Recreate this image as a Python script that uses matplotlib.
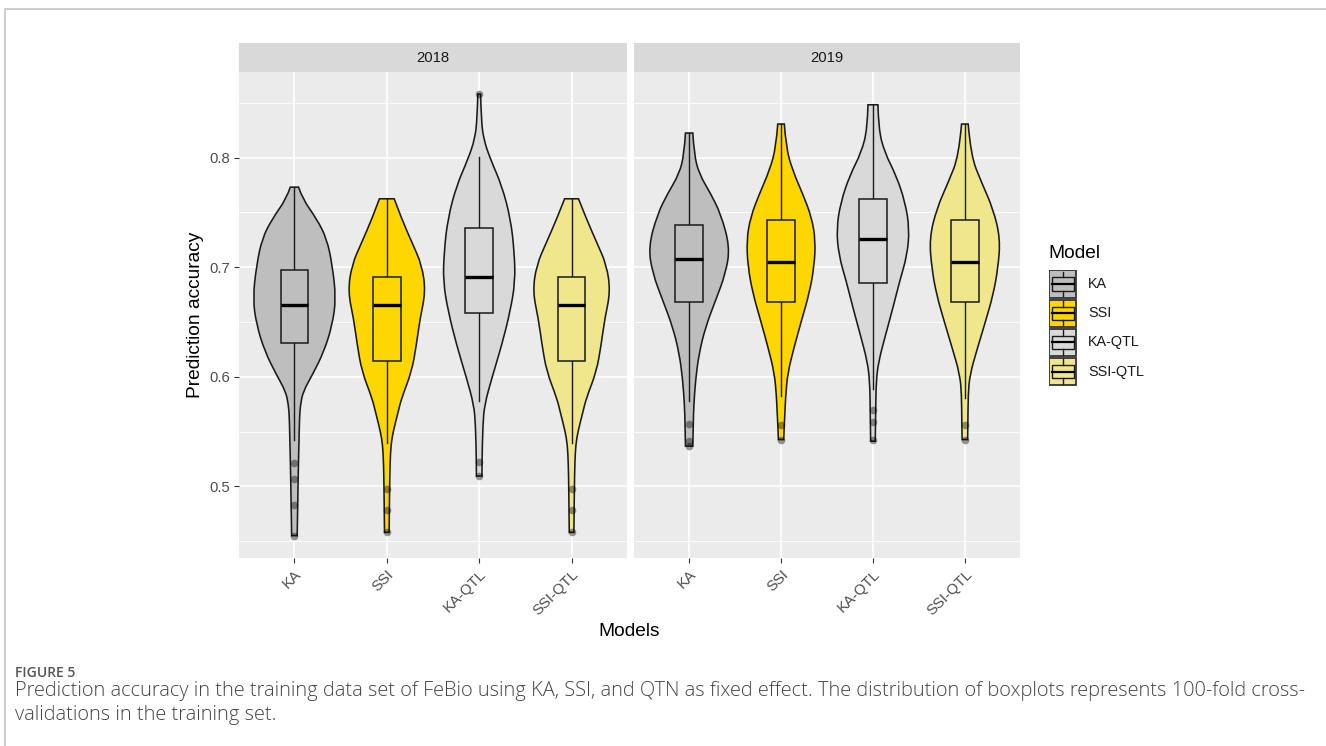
import matplotlib
matplotlib.use("Agg")
import matplotlib.pyplot as plt
from matplotlib.path import Path
from matplotlib.patches import PathPatch, Rectangle
from matplotlib.lines import Line2D

plt.rcParams['font.family'] = ['Liberation Sans', 'DejaVu Sans']

# ---------------- data ----------------
models = ["KA", "SSI", "KA-QTL", "SSI-QTL"]
years = ["2018", "2019"]
fill_colors = ["#BEBEBE", "#FFD700", "#D9D9D9", "#F0E68C"]

# box statistics, in model order
q1_2018 = [0.6306, 0.6145, 0.6585, 0.6145]
med_2018 = [0.6655, 0.6655, 0.6906, 0.6655]
q3_2018 = [0.6973, 0.6906, 0.7358, 0.6906]
wlo_2018 = [0.5427, 0.5397, 0.5776, 0.5397]
whi_2018 = [0.7730, 0.7624, 0.8003, 0.7624]
out_2018 = [[0.521, 0.5064, 0.4827, 0.4548],
            [0.4973, 0.4782, 0.4579],
            [0.8579, 0.5221, 0.5094],
            [0.4973, 0.4782, 0.4579]]

q1_2019 = [0.6679, 0.6685, 0.6857, 0.6685]
med_2019 = [0.7070, 0.7049, 0.7255, 0.7049]
q3_2019 = [0.7388, 0.7433, 0.7618, 0.7427]
wlo_2019 = [0.5776, 0.5821, 0.5891, 0.5806]
whi_2019 = [0.8224, 0.8306, 0.8482, 0.8306]
out_2019 = [[0.557, 0.541, 0.537],
            [0.5564, 0.5427],
            [0.570, 0.5585, 0.5421],
            [0.5564, 0.5427]]

# violin outlines: accuracy levels (bottom -> top) and half-widths (x units)
ka18_y = [0.455, 0.48, 0.52, 0.5427, 0.5624, 0.5745, 0.5867, 0.6018, 0.623, 0.6473,
          0.6715, 0.7018, 0.7261, 0.7442, 0.7624, 0.773]
ka18_w = [0.03, 0.035, 0.043, 0.05, 0.055, 0.065, 0.095, 0.195, 0.32, 0.41,
          0.45, 0.41, 0.35, 0.24, 0.087, 0.045]
ssi18_y = [0.458, 0.4973, 0.52, 0.538, 0.5503, 0.567, 0.5806, 0.6048, 0.6291, 0.6533,
           0.6776, 0.7018, 0.723, 0.7442, 0.7624]
ssi18_w = [0.025, 0.03, 0.035, 0.045, 0.07, 0.12, 0.16, 0.27, 0.32, 0.36,
           0.42, 0.38, 0.27, 0.16, 0.08]
kaq18_y = [0.5094, 0.5221, 0.5564, 0.5745, 0.5988, 0.6291, 0.6594, 0.6867, 0.7139,
           0.7442, 0.7745, 0.7988, 0.817, 0.8352, 0.8579]
kaq18_w = [0.03, 0.03, 0.04, 0.058, 0.137, 0.245, 0.335, 0.39, 0.38,
           0.34, 0.245, 0.12, 0.047, 0.022, 0.015]
ssiq18_y = [0.458, 0.4973, 0.52, 0.538, 0.5503, 0.567, 0.5806, 0.6048, 0.6291, 0.6533,
            0.6776, 0.7018, 0.723, 0.7442, 0.7624]
ssiq18_w = [0.025, 0.03, 0.035, 0.045, 0.07, 0.12, 0.16, 0.27, 0.32, 0.36,
            0.42, 0.38, 0.27, 0.16, 0.075]

ka19_y = [0.5367, 0.557, 0.573, 0.5973, 0.6215, 0.6458, 0.67, 0.6942, 0.7185, 0.7488,
          0.767, 0.7852, 0.8033, 0.8224]
ka19_w = [0.04, 0.045, 0.05, 0.07, 0.108, 0.18, 0.289, 0.397, 0.444, 0.343,
          0.235, 0.108, 0.054, 0.04]
ssi19_y = [0.5427, 0.5564, 0.567, 0.5821, 0.6033, 0.6276, 0.6518, 0.6761, 0.7003, 0.7245,
           0.7458, 0.767, 0.7882, 0.8094, 0.8306]
ssi19_w = [0.029, 0.035, 0.042, 0.05, 0.072, 0.144, 0.224, 0.307, 0.36, 0.375,
           0.332, 0.235, 0.126, 0.054, 0.036]
kaq19_y = [0.5412, 0.5585, 0.57, 0.5958, 0.6139, 0.6382, 0.6624, 0.6867, 0.7109, 0.7352,
           0.7594, 0.7836, 0.8048, 0.8261, 0.8482]
kaq19_w = [0.025, 0.028, 0.03, 0.035, 0.061, 0.137, 0.216, 0.289, 0.372, 0.397,
           0.35, 0.253, 0.126, 0.061, 0.054]
ssiq19_y = [0.5427, 0.5564, 0.5836, 0.6018, 0.6261, 0.6503, 0.6745, 0.6988, 0.7261,
            0.7533, 0.7776, 0.8018, 0.8306]
ssiq19_w = [0.03, 0.033, 0.036, 0.054, 0.137, 0.224, 0.307, 0.36, 0.386,
            0.307, 0.18, 0.065, 0.036]

y_ticks = [0.5, 0.6, 0.7, 0.8]
y_minor = [0.45, 0.55, 0.65, 0.75, 0.85]

violins = {
    "2018": [(ka18_y, ka18_w), (ssi18_y, ssi18_w), (kaq18_y, kaq18_w), (ssiq18_y, ssiq18_w)],
    "2019": [(ka19_y, ka19_w), (ssi19_y, ssi19_w), (kaq19_y, kaq19_w), (ssiq19_y, ssiq19_w)],
}
boxes = {
    "2018": (q1_2018, med_2018, q3_2018, wlo_2018, whi_2018, out_2018),
    "2019": (q1_2019, med_2019, q3_2019, wlo_2019, whi_2019, out_2019),
}

# ---------------- layout ----------------
W, H = 1326, 746
fig = plt.figure(figsize=(W / 100, H / 100), dpi=100)


def fx(px):
    return px / W


def fy(py):
    return 1 - py / H


def smooth_side(pts):
    """quadratic-bezier smoothing through midpoints (rendering only)"""
    verts, codes = [], []
    m = len(pts) - 1
    for i in range(1, m):
        p = pts[i]
        if i < m - 1:
            q = ((pts[i][0] + pts[i + 1][0]) / 2, (pts[i][1] + pts[i + 1][1]) / 2)
        else:
            q = pts[m]
        verts += [p, q]
        codes += [Path.CURVE3, Path.CURVE3]
    return verts, codes


def violin(ax, xc, ys, ws, color):
    right = [(xc + w, y) for y, w in zip(ys, ws)]
    left = [(xc - w, y) for y, w in zip(ys[::-1], ws[::-1])]
    verts = [right[0]]
    codes = [Path.MOVETO]
    v, c = smooth_side(right)
    verts += v
    codes += c
    verts.append(left[0])
    codes.append(Path.LINETO)
    v, c = smooth_side(left)
    verts += v
    codes += c
    verts.append(right[0])
    codes.append(Path.CLOSEPOLY)
    ax.add_patch(PathPatch(Path(verts, codes), facecolor=color, edgecolor="#1a1a1a",
                           lw=1.15, zorder=3))


ylo, yhi = 0.4346, 0.8781
panels = [(239, 627), (634, 1020)]
top, bottom = 72, 558
bw = 0.15
tick_fs = 10.7

for pi, (yr, (x0, x1)) in enumerate(zip(years, panels)):
    ax = fig.add_axes([fx(x0), fy(bottom), fx(x1 - x0), (bottom - top) / H])
    ax.set_facecolor("#EBEBEB")
    ax.set_xlim(-0.6, 3.6)
    ax.set_ylim(ylo, yhi)
    for s in ax.spines.values():
        s.set_visible(False)
    for y in y_minor:
        ax.axhline(y, color="white", lw=0.6, zorder=1)
    for y in y_ticks:
        ax.axhline(y, color="white", lw=1.2, zorder=1)
    for i in range(len(models)):
        ax.axvline(i, color="white", lw=1.2, zorder=1)

    q1, med, q3, wlo, whi, outs = boxes[yr]
    for i, m in enumerate(models):
        vy, vw = violins[yr][i]
        violin(ax, i, vy, vw, fill_colors[i])
        ax.plot([i, i], [q3[i], whi[i]], color="#1a1a1a", lw=1.0, zorder=4)
        ax.plot([i, i], [wlo[i], q1[i]], color="#1a1a1a", lw=1.0, zorder=4)
        ax.add_patch(Rectangle((i - bw, q1[i]), 2 * bw, q3[i] - q1[i], facecolor=fill_colors[i],
                               edgecolor="#1a1a1a", lw=1.1, zorder=5))
        ax.plot([i - bw, i + bw], [med[i], med[i]], color="black", lw=2.4,
                solid_capstyle="butt", zorder=6)
        ax.plot([i] * len(outs[i]), outs[i], "o", ms=5.5, color="black", alpha=0.4,
                mec="none", zorder=7)

    ax.set_xticks(range(len(models)))
    ax.set_xticklabels(models, rotation=45, ha="right", va="top", rotation_mode="anchor")
    ax.tick_params(axis="x", length=3.5, width=0.8, color="#333333", labelcolor="#4D4D4D",
                   labelsize=tick_fs, pad=3)
    ax.set_yticks(y_ticks)
    if pi == 0:
        ax.set_yticklabels([f"{v:.1f}" for v in y_ticks])
        ax.tick_params(axis="y", length=3.5, width=0.8, color="#333333", labelcolor="#4D4D4D",
                       labelsize=tick_fs, pad=3)
    else:
        ax.tick_params(axis="y", length=0, labelleft=False)

    sax = fig.add_axes([fx(x0), fy(top), fx(x1 - x0), 29 / H])
    sax.set_facecolor("#D9D9D9")
    sax.set_xticks([])
    sax.set_yticks([])
    for s in sax.spines.values():
        s.set_visible(False)
    sax.text(0.5, 0.5, yr, ha="center", va="center", fontsize=10.7, color="#1A1A1A",
             transform=sax.transAxes)

fig.text(fx(195), fy(315), "Prediction accuracy", rotation=90, ha="center", va="center",
         fontsize=13.8, color="black")
fig.text(fx(629.5), fy(631), "Models", ha="center", va="center", fontsize=13.8, color="black")

# legend
fig.text(fx(1048), fy(253), "Model", ha="left", va="center", fontsize=13.8, color="black")
for i, m in enumerate(models):
    ktop = 269.5 + 29.2 * i
    kax = fig.add_axes([fx(1048.5), fy(ktop + 29), fx(28.5), 29 / H])
    kax.set_xlim(0, 1)
    kax.set_ylim(0, 1)
    kax.axis("off")
    kax.add_patch(Rectangle((0.03, 0.03), 0.94, 0.94, facecolor=fill_colors[i],
                            edgecolor="#333333", lw=1.3))
    kax.add_patch(Rectangle((0.12, 0.27), 0.76, 0.46, facecolor=fill_colors[i],
                            edgecolor="#1a1a1a", lw=1.0))
    kax.plot([0.12, 0.88], [0.5, 0.5], color="black", lw=1.6)
    kax.plot([0.5, 0.5], [0.08, 0.27], color="#1a1a1a", lw=1.0)
    kax.plot([0.5, 0.5], [0.73, 0.92], color="#1a1a1a", lw=1.0)
    fig.text(fx(1088), fy(ktop + 14.5), m, ha="left", va="center", fontsize=10.4,
             color="#1A1A1A")

# outer frame
fig.add_artist(Line2D([fx(4.5), fx(4.5), fx(W)], [0, fy(8.5), fy(8.5)], color="#C8C8C8",
                      lw=1.3, transform=fig.transFigure))

# caption
cap_font = ["Open Sans", "DejaVu Sans"]
fig.text(fx(15), fy(673), "FIGURE 5", ha="left", va="center", fontsize=10,
         color="#555555", family=cap_font, fontweight="semibold")
fig.text(fx(15), fy(691), "Prediction accuracy in the training data set of FeBio using KA, SSI, "
         "and QTN as fixed effect. The distribution of boxplots represents 100-fold cross-",
         ha="left", va="center", fontsize=14.4, color="#444444", family=cap_font,
         fontweight="light")
fig.text(fx(15), fy(715), "validations in the training set.", ha="left", va="center",
         fontsize=14.4, color="#444444", family=cap_font, fontweight="light")

fig.savefig("out.png", dpi=100)
